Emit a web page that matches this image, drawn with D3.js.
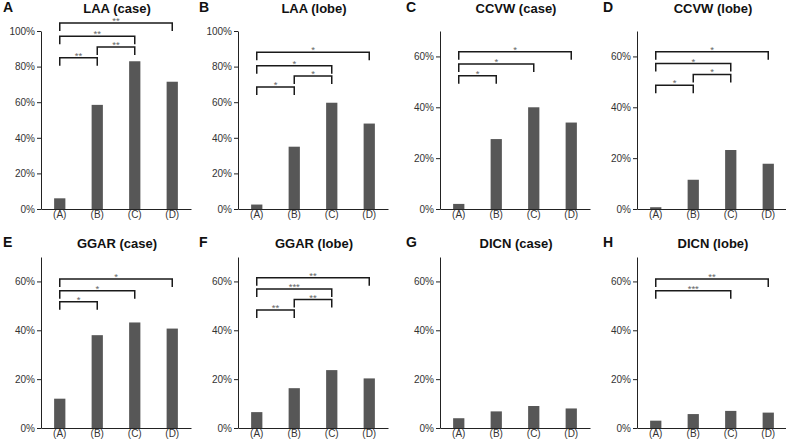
<!DOCTYPE html>
<html lang="en">
<head>
<meta charset="utf-8">
<title>Bar panels</title>
<style>
  body { margin: 0; background: #fff; }
  svg { display: block; font-family: "Liberation Sans", Arial, sans-serif; }
  .axis path, .axis line { stroke: #222; }
  .axis text { fill: #333; font-size: 10px; }
  .bar { fill: #575757; }
  .bracket { fill: none; stroke: #1a1a1a; stroke-width: 1.5px; }
  .star { fill: #666; font-size: 9.5px; text-anchor: middle; }
  .title { font-weight: bold; font-size: 13px; text-anchor: middle; fill: #111; }
  .letter { font-weight: bold; font-size: 14px; fill: #111; }
</style>
</head>
<body>
<div id="chart"></div>
<script src="https://cdn.jsdelivr.net/npm/d3@7"></script>
<script>
// data
var groups = ["(A)", "(B)", "(C)", "(D)"];
var letters = ["A", "B", "C", "D", "E", "F", "G", "H"];
var titles = ["LAA (case)", "LAA (lobe)", "CCVW (case)", "CCVW (lobe)",
              "GGAR (case)", "GGAR (lobe)", "DICN (case)", "DICN (lobe)"];

var laaCase   = [0.06, 0.585, 0.83, 0.715];
var laaLobe   = [0.025, 0.35, 0.597, 0.48];
var ccvwCase  = [0.02, 0.275, 0.40, 0.34];
var ccvwLobe  = [0.007, 0.115, 0.232, 0.178];
var ggarCase  = [0.12, 0.38, 0.432, 0.407];
var ggarLobe  = [0.065, 0.163, 0.237, 0.203];
var dicnCase  = [0.04, 0.068, 0.09, 0.08];
var dicnLobe  = [0.03, 0.057, 0.07, 0.063];
var values = [laaCase, laaLobe, ccvwCase, ccvwLobe, ggarCase, ggarLobe, dicnCase, dicnLobe];

var yMax = [1, 1, 0.7, 0.7, 0.7, 0.7, 0.7, 0.7];
var yTicks = [
  [0, 0.2, 0.4, 0.6, 0.8, 1], [0, 0.2, 0.4, 0.6, 0.8, 1],
  [0, 0.2, 0.4, 0.6], [0, 0.2, 0.4, 0.6],
  [0, 0.2, 0.4, 0.6], [0, 0.2, 0.4, 0.6],
  [0, 0.2, 0.4, 0.6], [0, 0.2, 0.4, 0.6]
];

// significance brackets: [from, to, level, label]
var brackets = [
  [[0, 1, 0.85, "**"], [1, 2, 0.91, "**"], [0, 2, 0.97, "**"], [0, 3, 1.045, "**"]],
  [[0, 1, 0.685, "*"], [1, 2, 0.747, "*"], [0, 2, 0.805, "*"], [0, 3, 0.88, "*"]],
  [[0, 1, 0.524, "*"], [0, 2, 0.57, "*"], [0, 3, 0.618, "*"]],
  [[0, 1, 0.487, "*"], [1, 2, 0.529, "*"], [0, 2, 0.572, "*"], [0, 3, 0.618, "*"]],
  [[0, 1, 0.517, "*"], [0, 2, 0.562, "*"], [0, 3, 0.61, "*"]],
  [[0, 1, 0.483, "**"], [1, 2, 0.526, "**"], [0, 2, 0.569, "***"], [0, 3, 0.615, "**"]],
  [],
  [[0, 2, 0.562, "***"], [0, 3, 0.61, "**"]]
];

var width = 786, height = 441;
var axisX = [41, 238, 440, 637];
var letterX = [3, 199, 406, 603];
var rows = [{top: 31, bottom: 209, head: 13}, {top: 257, bottom: 428, head: 248}];
var plotW = 150;

var svg = d3.select("#chart").append("svg")
    .attr("width", width)
    .attr("height", height);

letters.forEach(function(id, i) {
  var col = i % 4, row = rows[Math.floor(i / 4)];
  var x0 = axisX[col];

  var x = d3.scaleBand().domain(groups).range([x0, x0 + plotW]).paddingInner(0.7).paddingOuter(0.35);
  var y = d3.scaleLinear().domain([0, yMax[i]]).range([row.bottom, row.top]);

  var g = svg.append("g");

  g.selectAll(".bar")
      .data(values[i])
    .enter().append("rect")
      .attr("class", "bar")
      .attr("x", function(d, j) { return x(groups[j]); })
      .attr("width", x.bandwidth())
      .attr("y", function(d) { return y(d); })
      .attr("height", function(d) { return y(0) - y(d); });

  g.append("g")
      .attr("class", "axis")
      .attr("transform", "translate(" + x0 + ",0)")
      .call(d3.axisLeft(y).tickValues(yTicks[i]).tickFormat(d3.format(".0%")).tickSize(4).tickPadding(2).tickSizeOuter(0));

  g.append("g")
      .attr("class", "axis")
      .attr("transform", "translate(0," + row.bottom + ")")
      .call(d3.axisBottom(x).tickSize(0).tickPadding(2).tickSizeOuter(0));

  var cx = function(k) { return x(groups[k]) + x.bandwidth() / 2; };
  brackets[i].forEach(function(b) {
    var yy = y(b[2]);
    g.append("path")
        .attr("class", "bracket")
        .attr("d", "M" + cx(b[0]) + "," + (yy + 8) + "V" + yy + "H" + cx(b[1]) + "V" + (yy + 8));
    g.append("text")
        .attr("class", "star")
        .attr("x", (cx(b[0]) + cx(b[1])) / 2)
        .attr("y", yy + 1)
        .text(b[3]);
  });

  g.append("text")
      .attr("class", "title")
      .attr("x", x0 + 76)
      .attr("y", row.head)
      .text(titles[i]);

  g.append("text")
      .attr("class", "letter")
      .attr("x", letterX[col])
      .attr("y", row.head - 1)
      .text(id);
});
</script>
</body>
</html>
